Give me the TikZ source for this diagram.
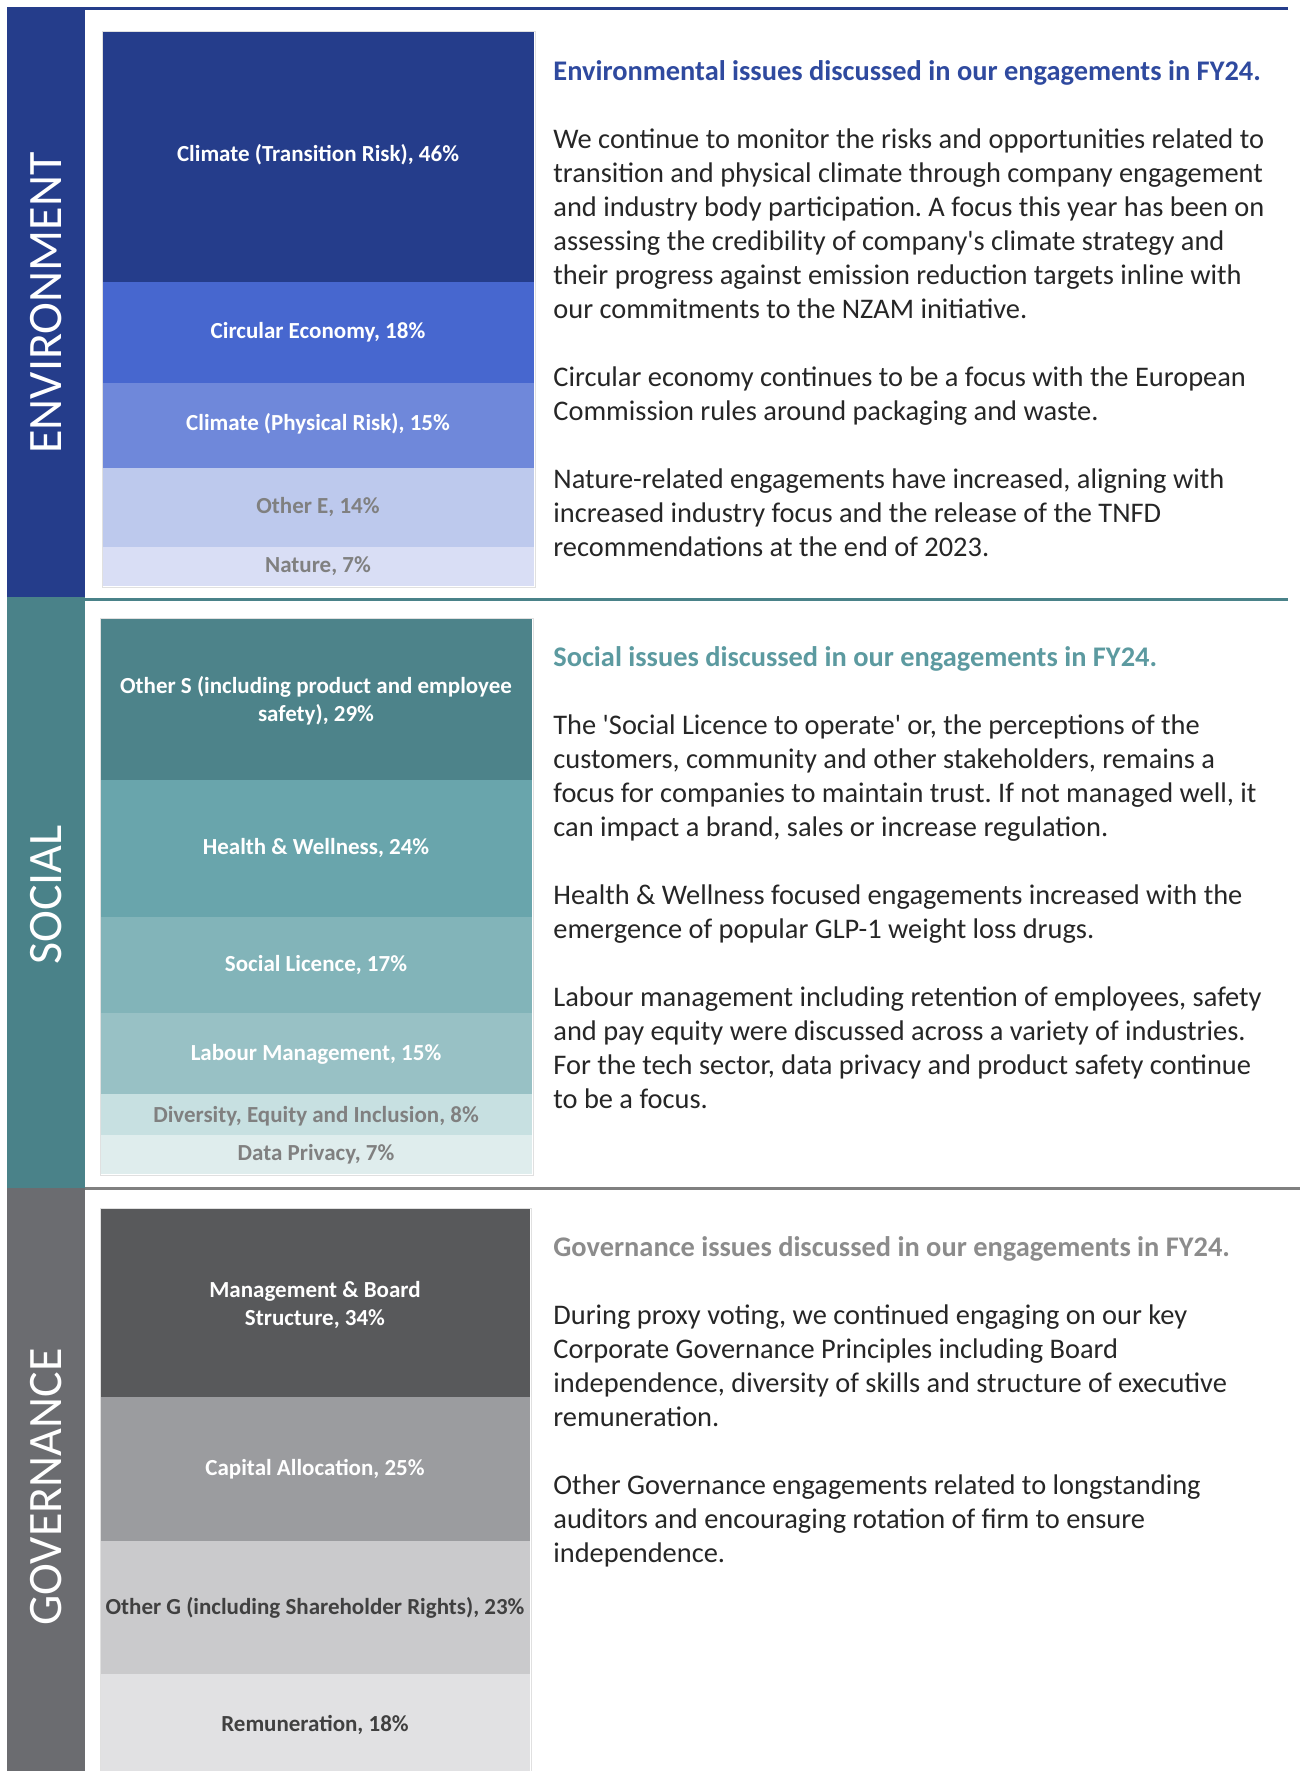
\documentclass[tikz,border=0pt]{standalone}
\usepackage{fontspec}
\setmainfont{Carlito}
\usepackage{tikz}
\usetikzlibrary{positioning}
\tikzset{>=stealth}
\frenchspacing

\definecolor{envbar}{HTML}{253D8B}
\definecolor{envhead}{HTML}{2F4A9F}
\definecolor{envA}{HTML}{253D8B}
\definecolor{envB}{HTML}{4767CF}
\definecolor{envC}{HTML}{6F88DA}
\definecolor{envD}{HTML}{BDC9ED}
\definecolor{envE}{HTML}{D9DEF5}
\definecolor{socbar}{HTML}{4A8289}
\definecolor{sochead}{HTML}{5C9AA0}
\definecolor{socA}{HTML}{4D838A}
\definecolor{socB}{HTML}{69A5AC}
\definecolor{socC}{HTML}{82B4B9}
\definecolor{socD}{HTML}{98C1C5}
\definecolor{socE}{HTML}{C7E0E1}
\definecolor{socF}{HTML}{DFEDED}
\definecolor{govbar}{HTML}{6B6C70}
\definecolor{govhead}{HTML}{8C8C8C}
\definecolor{govA}{HTML}{58595B}
\definecolor{govB}{HTML}{9B9C9F}
\definecolor{govC}{HTML}{CACACC}
\definecolor{govD}{HTML}{E1E1E3}
\definecolor{bodygray}{HTML}{262626}
\definecolor{lblgray}{HTML}{808080}
\definecolor{lbldark}{HTML}{404040}

\begin{document}
\begin{tikzpicture}[x=0.5pt,y=-0.5pt,
    side/.style={rotate=90, text=white, font=\fontsize{24}{28}\selectfont},
    seglbl/.style={font=\bfseries\fontsize{11.5}{14}\selectfont, text=white, align=center},
    greylbl/.style={seglbl, text=lblgray},
    darklbl/.style={seglbl, text=lbldark},
    bodytext/.style={anchor=north west, inner sep=0pt, align=left, text=bodygray,
        font=\fontsize{14.2}{17}\selectfont},
    rule/.style={line width=1.5pt}]
    \useasboundingbox (0,0) rectangle (1300,1771);
    \fill[white] (0,0) rectangle (1300,1771);

    % side bars and section rules
    \fill[envbar] (7,9) rectangle (85,597);
    \fill[socbar] (7,597) rectangle (85,1188);
    \fill[govbar] (7,1188) rectangle (85,1771);
    \draw[rule, envbar] (7,9) -- (1288,9);
    \draw[rule, socbar] (85,599) -- (1288,599);
    \draw[rule, gray] (85,1188) -- (1300,1188);
    \node[side] (envside) at (46,303) {ENVIRONMENT};
    \node[side] (socside) at (46,895) {SOCIAL};
    \node[side] (govside) at (46,1487) {GOVERNANCE};

    % environment chart
    \draw[black!12] (102,31) rectangle (535,587);
    \fill[envA] (103,32) rectangle (534,282);
    \fill[envB] (103,282) rectangle (534,383);
    \fill[envC] (103,383) rectangle (534,468);
    \fill[envD] (103,468) rectangle (534,547);
    \fill[envE] (103,547) rectangle (534,586);
    \node[seglbl] (trans) at (318,155) {Climate (Transition Risk), 46\%};
    \node[seglbl] (circ) at (318,332) {Circular Economy, 18\%};
    \node[seglbl] (phys) at (318,424) {Climate (Physical Risk), 15\%};
    \node[greylbl] (othE) at (318,507) {Other E, 14\%};
    \node[greylbl] (nature) at (318,566) {Nature, 7\%};

    % social chart
    \draw[black!12] (100,618) rectangle (533,1175);
    \fill[socA] (101,619) rectangle (532,780);
    \fill[socB] (101,780) rectangle (532,917);
    \fill[socC] (101,917) rectangle (532,1013);
    \fill[socD] (101,1013) rectangle (532,1094);
    \fill[socE] (101,1094) rectangle (532,1135);
    \fill[socF] (101,1135) rectangle (532,1174);
    \node[seglbl] (othS) at (316,701) {Other S (including product and employee\\ safety), 29\%};
    \node[seglbl] (health) at (316,848) {Health \& Wellness, 24\%};
    \node[seglbl] (slic) at (316,965) {Social Licence, 17\%};
    \node[seglbl] (labour) at (316,1054) {Labour Management, 15\%};
    \node[greylbl] (dei) at (316,1116) {Diversity, Equity and Inclusion, 8\%};
    \node[greylbl] (privacy) at (316,1154) {Data Privacy, 7\%};

    % governance chart
    \draw[black!12] (100,1208) rectangle (531,1771);
    \fill[govA] (101,1209) rectangle (530,1397);
    \fill[govB] (101,1397) rectangle (530,1541);
    \fill[govC] (101,1541) rectangle (530,1674);
    \fill[govD] (101,1674) rectangle (530,1771);
    \node[seglbl] (mgmt) at (315,1305) {Management \& Board\\ Structure, 34\%};
    \node[seglbl] (capital) at (315,1469) {Capital Allocation, 25\%};
    \node[darklbl] (othG) at (315,1608) {Other G (including Shareholder Rights), 23\%};
    \node[darklbl] (remun) at (315,1725) {Remuneration, 18\%};

    % text columns
    \node[bodytext] (envtext) at (553,60) {%
        {\bfseries\color{envhead}Environmental issues discussed in our engagements in FY24.}\\[17pt]
        We continue to monitor the risks and opportunities related to\\
        transition and physical climate through company engagement\\
        and industry body participation. A focus this year has been on\\
        assessing the credibility of company\textquotesingle s climate strategy and\\
        their progress against emission reduction targets inline with\\
        our commitments to the NZAM initiative.\\[17pt]
        Circular economy continues to be a focus with the European\\
        Commission rules around packaging and waste.\\[17pt]
        Nature-related engagements have increased, aligning with\\
        increased industry focus and the release of the TNFD\\
        recommendations at the end of 2023.};
    \node[bodytext] (soctext) at (553,646) {%
        {\bfseries\color{sochead}Social issues discussed in our engagements in FY24.}\\[17pt]
        The \textquotesingle Social Licence to operate\textquotesingle\ or, the perceptions of the\\
        customers, community and other stakeholders, remains a\\
        focus for companies to maintain trust. If not managed well, it\\
        can impact a brand, sales or increase regulation.\\[17pt]
        Health \& Wellness focused engagements increased with the\\
        emergence of popular GLP-1 weight loss drugs.\\[17pt]
        Labour management including retention of employees, safety\\
        and pay equity were discussed across a variety of industries.\\
        For the tech sector, data privacy and product safety continue\\
        to be a focus.};
    \node[bodytext] (govtext) at (553,1236) {%
        {\bfseries\color{govhead}Governance issues discussed in our engagements in FY24.}\\[17pt]
        During proxy voting, we continued engaging on our key\\
        Corporate Governance Principles including Board\\
        independence, diversity of skills and structure of executive\\
        remuneration.\\[17pt]
        Other Governance engagements related to longstanding\\
        auditors and encouraging rotation of firm to ensure\\
        independence.};
\end{tikzpicture}
\end{document}
